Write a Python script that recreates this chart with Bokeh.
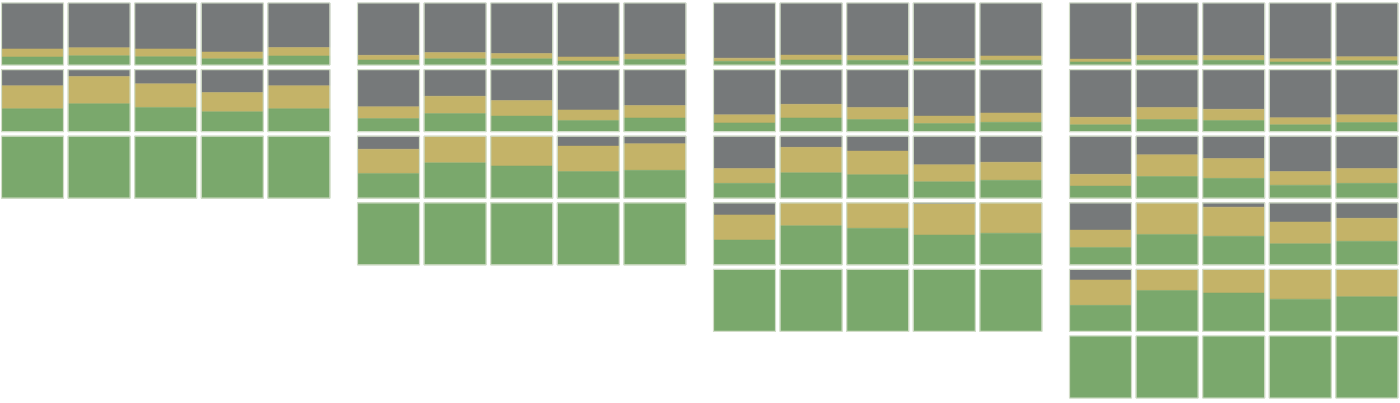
from bokeh.plotting import figure
from bokeh.models import Range1d, ColumnDataSource
from bokeh.embed import file_html
from bokeh.resources import INLINE

# ---- data: share of green (bottom) and yellow (middle) in each cell; gray fills the rest ----
green_1 = [[0.13, 0.15, 0.135, 0.10, 0.146],
           [0.37, 0.45, 0.39, 0.32, 0.37],
           [1.0, 1.0, 1.0, 1.0, 1.0]]
yellow_1 = [[0.13, 0.13, 0.125, 0.11, 0.135],
            [0.37, 0.44, 0.38, 0.31, 0.37],
            [0.0, 0.0, 0.0, 0.0, 0.0]]

green_2 = [[0.08, 0.10, 0.10, 0.065, 0.09],
           [0.21, 0.29, 0.25, 0.18, 0.22],
           [0.40, 0.57, 0.52, 0.43, 0.45],
           [1.0, 1.0, 1.0, 1.0, 1.0]]
yellow_2 = [[0.076, 0.10, 0.086, 0.065, 0.086],
            [0.19, 0.28, 0.25, 0.17, 0.20],
            [0.39, 0.43, 0.48, 0.41, 0.43],
            [0.0, 0.0, 0.0, 0.0, 0.0]]

green_3 = [[0.06, 0.08, 0.076, 0.054, 0.076],
           [0.14, 0.22, 0.195, 0.13, 0.15],
           [0.24, 0.41, 0.38, 0.265, 0.29],
           [0.40, 0.63, 0.59, 0.48, 0.51],
           [1.0, 1.0, 1.0, 1.0, 1.0]]
yellow_3 = [[0.05, 0.08, 0.076, 0.05, 0.07],
            [0.13, 0.22, 0.195, 0.12, 0.15],
            [0.24, 0.41, 0.38, 0.275, 0.29],
            [0.405, 0.37, 0.41, 0.50, 0.49],
            [0.0, 0.0, 0.0, 0.0, 0.0]]

green_4 = [[0.05, 0.076, 0.076, 0.05, 0.07],
           [0.11, 0.195, 0.18, 0.11, 0.146],
           [0.195, 0.35, 0.32, 0.21, 0.24],
           [0.28, 0.49, 0.46, 0.34, 0.38],
           [0.42, 0.66, 0.62, 0.52, 0.56],
           [1.0, 1.0, 1.0, 1.0, 1.0]]
yellow_4 = [[0.045, 0.076, 0.076, 0.05, 0.065],
            [0.12, 0.195, 0.18, 0.115, 0.124],
            [0.19, 0.35, 0.32, 0.22, 0.24],
            [0.28, 0.51, 0.47, 0.35, 0.37],
            [0.41, 0.34, 0.38, 0.48, 0.44],
            [0.0, 0.0, 0.0, 0.0, 0.0]]

panels = [(green_1, yellow_1), (green_2, yellow_2), (green_3, yellow_3), (green_4, yellow_4)]

# ---- layout / style ----
W, H = 1400, 403
CELL = 62.0
PITCH_X = 66.6
PITCH_Y = 66.6
PANEL_STEP = 356.0
LEFT = 1.0
TOP = 2.5

GREEN = "#7aa86c"
YELLOW = "#c4b368"
GRAY = "#76797a"
EDGE = "#d2ddc8"

layers = {"gray": dict(l=[], r=[], t=[], b=[]),
          "yellow": dict(l=[], r=[], t=[], b=[]),
          "green": dict(l=[], r=[], t=[], b=[])}
frame = dict(l=[], r=[], t=[], b=[])

def add(layer, l, r, t, b):
    if b - t <= 0.01:
        return
    d = layers[layer]
    d["l"].append(l); d["r"].append(r); d["t"].append(t); d["b"].append(b)

for k, (greens, yellows) in enumerate(panels):
    px = LEFT + k * PANEL_STEP
    for ri, (grow, yrow) in enumerate(zip(greens, yellows)):
        top = TOP + ri * PITCH_Y
        bottom = top + CELL
        for ci, (g, yv) in enumerate(zip(grow, yrow)):
            left = px + ci * PITCH_X
            right = left + CELL
            g_top = bottom - g * CELL
            y_top = g_top - yv * CELL
            add("green", left, right, g_top, bottom)
            add("yellow", left, right, y_top, g_top)
            add("gray", left, right, top, y_top)
            frame["l"].append(left); frame["r"].append(right)
            frame["t"].append(top); frame["b"].append(bottom)

p = figure(width=W, height=H, x_range=Range1d(0, W), y_range=Range1d(H, 0),
           output_backend="svg", toolbar_location=None, min_border=0,
           background_fill_color="white", border_fill_color="white")
p.axis.visible = False
p.grid.visible = False
p.outline_line_color = None

for name, color in (("gray", GRAY), ("yellow", YELLOW), ("green", GREEN)):
    src = ColumnDataSource(layers[name])
    p.quad(left="l", right="r", top="t", bottom="b", source=src,
           fill_color=color, line_color=color, line_width=0.5)

p.quad(left="l", right="r", top="t", bottom="b", source=ColumnDataSource(frame),
       fill_color=None, line_color=EDGE, line_width=1.2)

open("out.html", "w").write(file_html(p, INLINE))
